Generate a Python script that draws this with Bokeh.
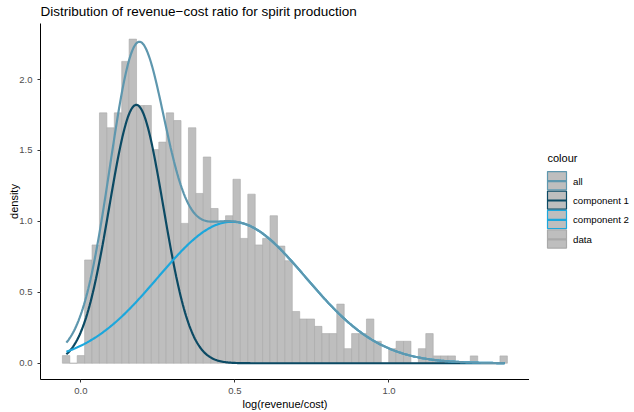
import numpy as np
from bokeh.plotting import figure
from bokeh.layouts import row
from bokeh.models import Range1d, FixedTicker, PrintfTickFormatter
from bokeh.core.properties import value
from bokeh.embed import file_html
from bokeh.resources import INLINE

# Histogram of log(revenue/cost): density per bin (60 equal-width bins)
density = [0.054, 0.000, 0.054, 0.728, 0.834, 1.765, 1.660, 1.765, 2.128, 2.285,
           1.817, 1.817, 1.506, 1.559, 1.765, 1.711, 0.986, 1.660, 1.197, 1.454,
           1.091, 0.990, 1.040, 1.297, 0.880, 1.192, 0.834, 0.880, 1.040, 0.826,
           0.723, 0.365, 0.312, 0.312, 0.260, 0.209, 0.209, 0.417, 0.103, 0.209,
           0.209, 0.312, 0.155, 0.000, 0.103, 0.155, 0.155, 0.000, 0.103, 0.209,
           0.052, 0.052, 0.052, 0.000, 0.000, 0.052, 0.000, 0.000, 0.000, 0.052]
bin_start = -0.060
bin_width = 0.02407

# Two-component normal mixture fitted to the same data
comp_means = [0.180, 0.490]
comp_sds = [0.0876, 0.240]
comp_weights = [0.40, 0.60]
data_min, data_max = -0.047, 1.375

x_ticks = [0.0, 0.5, 1.0]
y_ticks = [0.0, 0.5, 1.0, 1.5, 2.0]

series_labels = ["all", "component 1", "component 2", "data"]
series_colors = ["#5e97ae", "#0b4a64", "#1ca7dc", "#a9a9a9"]
bar_fill = "#bebebe"
FONT = "Liberation Sans"


def normal_pdf(x, mu, sd, w):
    return w * np.exp(-0.5 * ((x - mu) / sd) ** 2) / (sd * np.sqrt(2 * np.pi))


edges = bin_start + bin_width * np.arange(len(density) + 1)
xs = np.linspace(data_min, data_max, 400)
comp1 = normal_pdf(xs, comp_means[0], comp_sds[0], comp_weights[0])
comp2 = normal_pdf(xs, comp_means[1], comp_sds[1], comp_weights[1])
total = comp1 + comp2

# ---- main panel -------------------------------------------------------------
p = figure(width=529, height=412, output_backend="svg", toolbar_location=None,
           x_range=Range1d(-0.131, 1.456), y_range=Range1d(-0.1145, 2.395),
           title="Distribution of revenue\u2212cost ratio for spirit production")
p.min_border_left = 40
p.min_border_right = 0
p.min_border_top = 23
p.min_border_bottom = 32
p.background_fill_color = "white"
p.border_fill_color = "white"
p.outline_line_color = None
p.grid.visible = False

p.title.text_font = FONT
p.title.text_font_size = "13.5px"
p.title.text_font_style = "normal"
p.title.text_color = "black"
p.title.offset = 0
p.title.standoff = 6
p.title.vertical_align = "top"

for ax in (p.xaxis[0], p.yaxis[0]):
    ax.axis_line_color = "black"
    ax.axis_line_width = 1
    ax.major_tick_line_color = "#333333"
    ax.major_tick_out = 3
    ax.major_tick_in = 0
    ax.minor_tick_line_color = None
    ax.major_label_text_font = FONT
    ax.major_label_text_font_size = "9.5px"
    ax.major_label_text_color = "#4d4d4d"
    ax.axis_label_text_font = FONT
    ax.axis_label_text_font_size = "11px"
    ax.axis_label_text_font_style = "normal"
    ax.axis_label_text_color = "black"
    ax.formatter = PrintfTickFormatter(format="%.1f")

p.xaxis[0].ticker = FixedTicker(ticks=x_ticks)
p.yaxis[0].ticker = FixedTicker(ticks=y_ticks)
p.xaxis[0].axis_label = "log(revenue/cost)"
p.yaxis[0].axis_label = "density"
p.xaxis[0].major_label_standoff = 5
p.xaxis[0].axis_label_standoff = 1
p.yaxis[0].major_label_standoff = 5
p.yaxis[0].axis_label_standoff = -4

p.quad(left=edges[:-1], right=edges[1:], top=density, bottom=0,
       fill_color=bar_fill, line_color=series_colors[3], line_width=0.6)

p.line(xs, comp1, line_color=series_colors[1], line_width=2.2)
p.line(xs, comp2, line_color=series_colors[2], line_width=2.2)
p.line(xs, total, line_color=series_colors[0], line_width=2.2)

# ---- legend panel: x in pixels from its left edge, y in page pixels --------
# (its frame lines up with the main panel's frame, page rows 23..380)
lg = figure(width=105, height=412, output_backend="svg", toolbar_location=None,
            x_range=Range1d(0, 105), y_range=Range1d(380, 23),
            x_axis_type=None, y_axis_type=None)
lg.min_border = 0
lg.outline_line_color = None
lg.grid.visible = False
lg.background_fill_color = "white"
lg.border_fill_color = "white"

key_left, key_size, key_pitch, key_top = 18.0, 19.0, 19.5, 171.5
tops = [key_top + i * key_pitch for i in range(len(series_labels))]
mids = [t + key_size / 2 for t in tops]

lg.text(x=[key_left], y=[158], text=["colour"], text_font=value(FONT),
        text_font_size="11px", text_baseline="middle", text_color="black")
lg.quad(left=[key_left] * 4, right=[key_left + key_size] * 4,
        top=tops, bottom=[t + key_size - 0.8 for t in tops],
        fill_color=bar_fill, line_color=series_colors, line_width=1.2)
lg.segment(x0=[key_left] * 4, x1=[key_left + key_size] * 4, y0=mids, y1=mids,
           line_color=series_colors, line_width=2.2)
lg.text(x=[key_left + key_size + 6.5] * 4, y=mids, text=series_labels,
        text_font=value(FONT), text_font_size="9.7px", text_baseline="middle",
        text_color="black")

open("out.html", "w").write(file_html(row(p, lg), INLINE))
